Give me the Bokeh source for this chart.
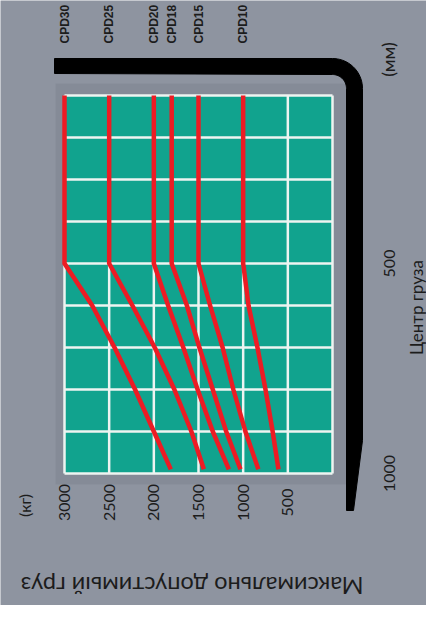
import numpy as np
from bokeh.plotting import figure
from bokeh.models import Range1d
from bokeh.core.properties import value
from bokeh.embed import file_html
from bokeh.resources import INLINE

# ---------------- data ----------------
models = ["CPD30", "CPD25", "CPD20", "CPD18", "CPD15", "CPD10"]
load_center = [100, 500, 600, 700, 800, 900, 990]          # mm
cpd30 = [3000, 3000, 2690, 2440, 2210, 2000, 1810]          # kg
cpd25 = [2500, 2500, 2240, 1990, 1770, 1580, 1440]
cpd20 = [2000, 2000, 1840, 1670, 1510, 1340, 1160]
cpd18 = [1800, 1800, 1630, 1490, 1340, 1190, 1030]
cpd15 = [1500, 1500, 1370, 1230, 1110, 975, 830]
cpd10 = [1000, 1000, 940, 840, 750, 670, 605]
series = [cpd30, cpd25, cpd20, cpd18, cpd15, cpd10]

cap_ticks = [3000, 2500, 2000, 1500, 1000, 500]
cap_tick_labels = ["3000", "2500", "2000", "1500", "1000", "500"]
lc_ticks = [500, 1000]
lc_tick_labels = ["500", "1000"]
cap_grid = [3000, 2500, 2000, 1500, 1000, 500, 0]
lc_grid = [100, 200, 300, 400, 500, 600, 700, 800, 900, 1000]

cap_unit = "(кг)"
lc_unit = "(мм)"
cap_title = "Максимально допустимый груз"
lc_title = "Центр груза"

# ------------- layout helpers (picture pixel -> data) -------------
def dx(X):
    return 3000 - (X - 64) * 3000 / 268.0

def dy(Y):
    return 100 + (Y - 95) * 900 / 378.0

W, H = 426, 605
BG = "#8e94a0"
TXT = "#1c1c1c"
FONT = value("Lato")

p = figure(width=W, height=H, output_backend="svg", toolbar_location=None,
           x_range=Range1d(dx(0), dx(W)), y_range=Range1d(dy(H), dy(0)),
           x_axis_location=None, y_axis_location=None, min_border=0)
p.grid.visible = False
p.outline_line_color = None
p.background_fill_color = BG
p.border_fill_color = BG

# panel behind the grid
p.quad(left=[dx(55)], right=[dx(347)], top=[dy(83)], bottom=[dy(484)],
       fill_color="#858b97", line_color=None)

# black L-shaped mast
R_out, R_in = 30, 14
cx, cy = 332, 88
t = np.linspace(np.pi / 2, 0, 20)
outer = [(54, 58)] + [(cx + R_out * np.cos(a), cy - R_out * np.sin(a)) for a in t] + [(362, 440), (353, 510)]
inner = [(346, 510)] + [(cx + R_in * np.cos(a), cy - R_in * np.sin(a)) for a in t[::-1]] + [(54, 73)]
poly = outer + inner
p.patch(x=[dx(a) for a, b in poly], y=[dy(b) for a, b in poly],
        fill_color="#000000", line_color="#000000", line_width=1)

# teal grid area
p.quad(left=[cap_grid[-1]], right=[cap_grid[0]], top=[lc_grid[0]], bottom=[lc_grid[-1]],
       fill_color="#11a38e", line_color=None)
p.segment(x0=cap_grid, x1=cap_grid, y0=[lc_grid[0]] * len(cap_grid), y1=[lc_grid[-1]] * len(cap_grid),
          line_color="#eef4f1", line_width=2.5)
p.segment(x0=[cap_grid[0]] * len(lc_grid), x1=[cap_grid[-1]] * len(lc_grid), y0=lc_grid, y1=lc_grid,
          line_color="#eef4f1", line_width=2.5)

# capacity curves
for s in series:
    p.line(x=s, y=load_center, line_color="#ec1c24", line_width=4.5, line_join="round")

# model labels (top)
p.text(x=[s[0] for s in series], y=[dy(43)] * len(series), text=models, angle=np.pi / 2,
       text_align="left", text_baseline="middle", text_font=value("Liberation Sans"),
       text_font_style="bold", text_font_size="12px", text_color=TXT)

# capacity tick labels
p.text(x=cap_ticks, y=[dy(502)] * len(cap_ticks), text=cap_tick_labels, angle=np.pi / 2,
       text_align="center", text_baseline="middle", text_font=FONT, text_font_size="16px",
       text_color=TXT)
p.text(x=[dx(24)], y=[dy(505)], text=[cap_unit], angle=np.pi / 2,
       text_align="center", text_baseline="middle", text_font=FONT, text_font_size="16px",
       text_color=TXT)

# load-centre tick labels
p.text(x=[dx(389)] * len(lc_ticks), y=lc_ticks, text=lc_tick_labels, angle=np.pi / 2,
       text_align="center", text_baseline="middle", text_font=FONT, text_font_size="16px",
       text_color=TXT)
p.text(x=[dx(387)], y=[dy(59)], text=[lc_unit], angle=np.pi / 2,
       text_align="center", text_baseline="middle", text_font=FONT, text_font_size="18px",
       text_color=TXT)

# axis titles
p.text(x=[dx(416)], y=[dy(307)], text=[lc_title], angle=np.pi / 2,
       text_align="center", text_baseline="middle", text_font=FONT, text_font_size="17px",
       text_color=TXT)
p.text(x=[dx(363)], y=[dy(585)], text=[cap_title], angle=np.pi,
       text_align="left", text_baseline="middle", text_font=FONT, text_font_size="23.5px",
       text_color=TXT)

open("out.html", "w").write(file_html(p, INLINE))
